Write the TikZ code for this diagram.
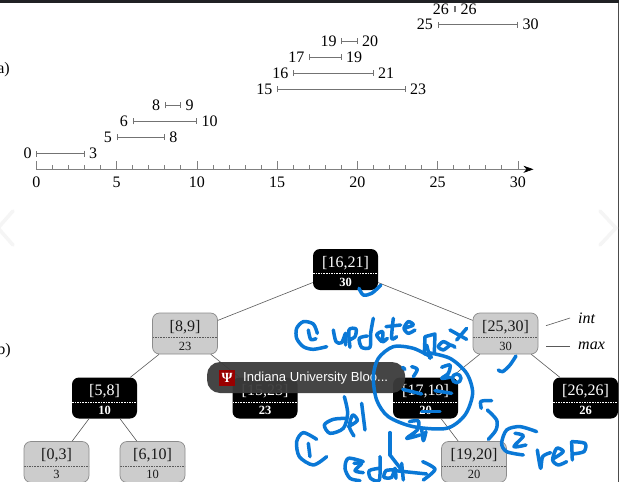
\documentclass[tikz,border=0pt]{standalone}
\usepackage{fontspec}
\setmainfont{Liberation Serif}
\newfontfamily\tipfont{Liberation Sans}
\usepackage{tikz}
\usetikzlibrary{arrows.meta}

\definecolor{inkblue}{HTML}{0A78D6}
\definecolor{barblack}{HTML}{202124}
\definecolor{tipgrey}{HTML}{3C3C3C}
\definecolor{iured}{HTML}{990000}

\newcommand{\bignum}{\fontsize{16}{17}\selectfont}
\newcommand{\maxnum}{\fontsize{12.5}{17}\selectfont}
\newcommand{\intmax}[2]{\rule{0pt}{15pt}#1\\[2pt]\maxnum #2}

\tikzset{
	blacknode/.style={rectangle, rounded corners=7pt, minimum width=65pt, minimum height=41pt, inner sep=0pt,
		fill=black, text=white, align=center, font=\bignum,
		path picture={\draw[white, dash pattern=on 1.6pt off 1pt, line width=0.6pt]
			([yshift=-4pt]path picture bounding box.west) -- ([yshift=-4pt]path picture bounding box.east);}},
	greynode/.style={rectangle, rounded corners=7pt, minimum width=65pt, minimum height=41pt, inner sep=0pt,
		draw=black!45, line width=0.7pt, fill=black!20, text=black!90, align=center, font=\bignum,
		path picture={\draw[black!65, dash pattern=on 1.6pt off 1pt, line width=0.6pt]
			([yshift=-4pt]path picture bounding box.west) -- ([yshift=-4pt]path picture bounding box.east);}},
	lowend/.style={anchor=east, inner sep=4.5pt, font=\bignum},
	highend/.style={anchor=west, inner sep=4.5pt, font=\bignum},
	span/.style={draw=black!55, line width=0.7pt, {Bar[width=6pt,line width=0.5pt]}-{Bar[width=6pt,line width=0.5pt]}},
	tickmark/.style={draw=black!50, line width=0.6pt},
	scaleno/.style={font=\bignum},
	sidenote/.style={font=\bignum\itshape},
	ink/.style={draw=inkblue, line width=3.5pt, line cap=round, line join=round},
	chevron/.style={draw=black!4, line width=3.5pt, line cap=round}
}

\begin{document}
\begin{tikzpicture}[x=1pt,y=-1pt]
	\useasboundingbox (0,0) rectangle (619,482);
	\fill[white] (0,0) rectangle (619,482);

	% window edges
	\fill[barblack] (0,0) rectangle (619,3);
	\fill[black!70] (618,3) rectangle (619,482);
	\draw[chevron] (13,211) -- (-2,228) -- (13,245);
	\draw[chevron] (600,211) -- (616,228) -- (600,245);

	\node[anchor=east, font=\bignum, inner sep=0pt] (parta) at (10,69.5) {a)};
	\node[anchor=east, font=\bignum, inner sep=0pt] (partb) at (11,350.5) {b)};

	% intervals
	\node[lowend] (lo0) at (36.3,153.7) {0};
	\node[highend] (hi3) at (84.4,153.7) {3};
	\node[lowend] (lo5) at (116.5,137) {5};
	\node[highend] (hi8) at (164.7,137) {8};
	\node[lowend] (lo6) at (132.6,121.3) {6};
	\node[highend] (hi10) at (196.8,121.3) {10};
	\node[lowend] (lo8) at (164.7,105.3) {8};
	\node[highend] (hi9) at (180.8,105.3) {9};
	\node[lowend] (lo15) at (277,89) {15};
	\node[highend] (hi23) at (405.4,89) {23};
	\node[lowend] (lo16) at (293.1,73) {16};
	\node[highend] (hi21) at (373.3,73) {21};
	\node[lowend] (lo17) at (309.1,57) {17};
	\node[highend] (hi19) at (341.3,57) {19};
	\node[lowend] (lo19) at (341.3,41) {19};
	\node[highend] (hi20) at (357.3,41) {20};
	\node[lowend] (lo25) at (437.5,24.7) {25};
	\node[highend] (hi30) at (517.8,24.7) {30};
	\node[lowend] (lo26) at (453.6,9.3) {26};
	\node[highend] (hi26) at (455.8,9.3) {26};

	\draw[span] (lo0.east) -- (hi3.west);
	\draw[span] (lo5.east) -- (hi8.west);
	\draw[span] (lo6.east) -- (hi10.west);
	\draw[span] (lo8.east) -- (hi9.west);
	\draw[span] (lo15.east) -- (hi23.west);
	\draw[span] (lo16.east) -- (hi21.west);
	\draw[span] (lo17.east) -- (hi19.west);
	\draw[span] (lo19.east) -- (hi20.west);
	\draw[span] (lo25.east) -- (hi30.west);
	\draw[span] (lo26.east) -- (hi26.west);

	% number line
	\coordinate (axisstart) at (36.3,169.3);
	\coordinate (axisend) at (533.5,169.3);
	\draw[tickmark, -{Stealth[black,length=10pt,width=7pt,inset=3pt]}] (axisstart) -- (axisend);
	\foreach \i in {0,...,30}
		\draw[tickmark] (36.3+16.05*\i,169.3) -- (36.3+16.05*\i,165);
	\foreach \i in {0,5,...,30} {
		\draw[tickmark] (36.3+16.05*\i,169.3) -- (36.3+16.05*\i,161);
		\node[scaleno] (no\i) at (36.3+16.05*\i,182) {\i};
	}

	% tree
	\node[blacknode] (n16) at (345.5,269.5) {\intmax{[16,21]}{\bfseries 30}};
	\node[greynode] (n8) at (185,333.5) {\intmax{[8,9]}{23}};
	\node[greynode] (n25) at (505.5,333.5) {\intmax{[25,30]}{30}};
	\node[blacknode] (n5) at (104.5,398) {\intmax{[5,8]}{\bfseries 10}};
	\node[blacknode] (n15) at (265,398) {\intmax{[15,23]}{\bfseries 23}};
	\node[blacknode] (n17) at (425.5,398) {\intmax{[17,19]}{\bfseries 20}};
	\node[blacknode] (n26) at (585.5,398) {\intmax{[26,26]}{\bfseries 26}};
	\node[greynode] (n0) at (56.5,462) {\intmax{[0,3]}{3}};
	\node[greynode] (n6) at (152.5,462) {\intmax{[6,10]}{10}};
	\node[greynode] (n19) at (474,462) {\intmax{[19,20]}{20}};

	\path [-, draw=black!65, line width=0.6pt]
	(n16) edge (n8)
	(n16) edge (n25)
	(n8) edge (n5)
	(n8) edge (n15)
	(n25) edge (n17)
	(n25) edge (n26)
	(n5) edge (n0)
	(n5) edge (n6)
	(n17) edge (n19);

	% key
	\coordinate (intfoot) at (546,325.7);
	\coordinate (maxfoot) at (546,346.3);
	\node[sidenote, anchor=west, inner sep=0pt] (intlabel) at (578,318) {int};
	\node[sidenote, anchor=west, inner sep=0pt] (maxlabel) at (578,346.3) {max};
	\draw[black!65, line width=0.6pt] (intfoot) -- ([xshift=-8pt]intlabel.west);
	\draw[black!65, line width=0.6pt] (maxfoot) -- ([xshift=-8pt]maxlabel.west);

	% browser tooltip
	\fill[tipgrey, opacity=0.95, rounded corners=13pt] (207,362) rectangle (405,393);
	\fill[iured] (219,370) rectangle (235,386);
	\node[text=white, font=\bfseries\fontsize{14}{14}\selectfont, inner sep=0pt] (trident) at (227,378) {Ψ};
	\node[text=white, anchor=west, inner sep=0pt, font=\tipfont\fontsize{13.1}{14}\selectfont] (tiptext) at (243,378.5) {Indiana University Bloo...};

	% pen strokes, in a finer grid
	\begin{scope}[shift={(280,230)},x=0.3333pt,y=-0.3333pt]
		\draw[ink] plot[smooth] coordinates {(237,175) (250,195) (275,190) (303,165)};
		\draw[ink] plot[smooth] coordinates {(655,420) (668,425) (690,405) (708,378)};
		% circled 1, update
		\draw[ink] plot[smooth] coordinates {(112,310) (100,282) (70,275) (50,295) (50,325) (70,350) (100,358) (140,350)};
		\draw[ink] plot[smooth] coordinates {(85,300) (92,328) (108,326)};
		\draw[ink] plot[smooth] coordinates {(160,300) (168,335) (185,338) (197,310) (197,345)};
		\draw[ink] plot[smooth] coordinates {(210,352) (207,300) (228,297) (225,320) (207,330)};
		\draw[ink] plot[smooth] coordinates {(280,265) (272,310) (270,352) (245,352) (238,325) (262,318)};
		\draw[ink] plot[smooth] coordinates {(305,335) (290,315) (308,305) (308,335) (322,325)};
		\draw[ink] plot[smooth] coordinates {(340,265) (335,325) (350,320)};
		\draw[ink] (318,290) -- (362,285);
		\draw[ink] plot[smooth] coordinates {(372,295) (400,285) (385,275) (372,295) (385,310) (405,300)};
		% max
		\draw[ink] (433,372) -- (435,320) -- (465,312) -- (463,368);
		\draw[ink] plot[smooth] coordinates {(510,345) (490,335) (475,350) (490,360) (512,345) (525,352)};
		\draw[ink] (510,300) -- (560,328);
		\draw[ink] (560,295) -- (530,330);
		% ring
		\draw[ink] plot[smooth] coordinates {(455,382) (400,355) (340,350) (295,385) (280,440) (290,510) (325,560) (400,590) (500,595) (555,555) (578,490) (560,430) (510,385) (445,368)};
		\draw[ink] (440,345) -- (450,385);
		% old values and strikes
		\draw[ink] (368,412) -- (375,418);
		\draw[ink] plot[smooth] coordinates {(395,410) (412,418) (400,440)};
		\draw[ink] plot[smooth] coordinates {(485,412) (510,405) (505,430) (485,445) (510,442)};
		\draw[ink] (530,445) circle (13);
		\draw[ink] (368,478) -- (425,492);
		\draw[ink] (465,482) -- (515,490);
		\draw[ink] (425,545) -- (480,545);
		\draw[ink] plot[smooth] coordinates {(388,575) (415,573) (412,600) (380,625) (420,615)};
		\draw[ink] plot[smooth] coordinates {(425,595) (430,632) (438,605)};
		% del
		\draw[ink] plot[smooth] coordinates {(193,500) (203,550) (190,595) (150,610) (133,585) (160,568) (200,565)};
		\draw[ink] plot[smooth] coordinates {(205,590) (232,572) (218,555) (208,590) (222,618)};
		\draw[ink] (245,520) -- (255,600);
		% circled 1, data
		\draw[ink] plot[smooth] coordinates {(110,628) (70,608) (50,635) (58,680) (100,705) (140,680)};
		\draw[ink] (85,640) -- (90,680);
		\draw[ink] plot[smooth] coordinates {(250,695) (205,685) (195,715) (210,745) (240,752)};
		\draw[ink] plot[smooth] coordinates {(222,700) (245,700) (225,722) (250,728)};
		\draw[ink] plot[smooth] coordinates {(300,680) (298,750) (272,745) (268,722) (298,715)};
		\draw[ink] plot[smooth] coordinates {(340,720) (318,722) (312,742) (335,742) (345,715) (348,745)};
		\draw[ink] (330,608) -- (330,675);
		\draw[ink] (330,675) -- (365,720);
		\draw[ink] (365,700) -- (370,750);
		\draw[ink] (345,722) -- (440,732);
		\draw[ink] plot[smooth] coordinates {(428,695) (465,718) (430,750)};
		% bracket, circled 2, rep
		\draw[ink] plot[smooth] coordinates {(604,535) (603,514) (635,512)};
		\draw[ink] plot[smooth] coordinates {(622,540) (650,570) (648,600) (625,628)};
		\draw[ink] plot[smooth] coordinates {(770,605) (720,590) (680,600) (665,640) (680,665) (730,675)};
		\draw[ink] plot[smooth] coordinates {(705,610) (730,618) (702,650) (738,645)};
		\draw[ink] plot[smooth] coordinates {(772,660) (782,715) (788,680) (812,668)};
		\draw[ink] plot[smooth] coordinates {(822,685) (850,665) (830,655) (818,690) (835,705) (860,695)};
		\draw[ink] (877,690) -- (875,635);
		\draw[ink] plot[smooth] coordinates {(875,635) (915,640) (912,665) (877,672)};
	\end{scope}
\end{tikzpicture}
\end{document}
